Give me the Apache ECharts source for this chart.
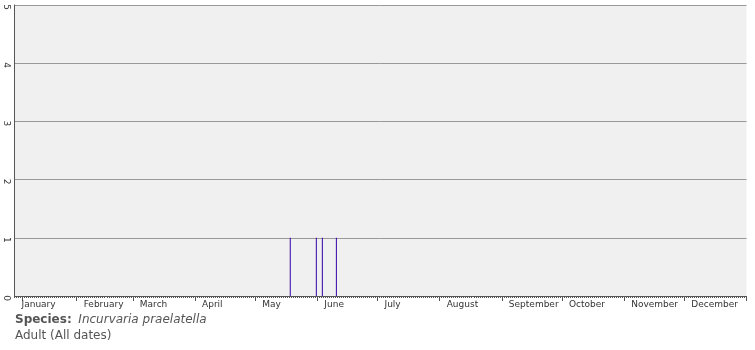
<!DOCTYPE html>
<html><head><meta charset="utf-8">
<script src="https://cdn.jsdelivr.net/npm/echarts@6/dist/echarts.min.js"></script>
<style>html,body{margin:0;padding:0;background:#fff}#c{width:755px;height:350px}</style>
</head><body><div id="c"></div>
<script>
const monthNames = ['January','February','March','April','May','June','July','August','September','October','November','December'];
const monthDays = [31,28,31,30,31,30,31,31,30,31,30,31];
// observation days (0-based day of year) and counts
const obsDays = [137, 150, 153, 160];
const obsCounts = [1, 1, 1, 1];
const yTicks = [0,1,2,3,4,5];

const days = [];
const monthStart = {};
const monthLabelAt = {};
let idx = 0;
monthDays.forEach((n, m) => {
  monthStart[idx] = m;
  monthLabelAt[idx + 3] = monthNames[m];
  for (let d = 1; d <= n; d++) { days.push(monthNames[m] + ' ' + d); idx++; }
});
monthStart[4] = 0;
delete monthStart[0];
const values = days.map(() => 0);
obsDays.forEach((d, i) => { values[d] = obsCounts[i]; });

const chart = echarts.init(document.getElementById('c'));
chart.setOption({
  animation: false,
  grid: { left: 14.5, right: 8.5, top: 5, bottom: 54, show: true, backgroundColor: '#f0f0f0', borderWidth: 0 },
  xAxis: [{
    type: 'category', data: days, boundaryGap: true, position: 'bottom',
    axisLine: { show: true, lineStyle: { color: '#555', width: 1 } },
    axisTick: { show: true, interval: 0, length: 2, lineStyle: { color: '#555', width: 1 } },
    axisLabel: { show: false }
  }, {
    type: 'category', data: days, boundaryGap: true, position: 'bottom',
    axisLine: { show: false },
    axisTick: { show: true, interval: (i) => monthStart[i] !== undefined, length: 5, lineStyle: { color: '#555', width: 1 } },
    axisLabel: { show: true, interval: (i) => monthLabelAt[i] !== undefined, formatter: (v, i) => monthLabelAt[i] || '',
      align: 'left', fontFamily: 'DejaVu Sans', fontSize: 9, color: '#333', margin: 4 }
  }],
  yAxis: {
    type: 'value', min: yTicks[0], max: yTicks[yTicks.length-1], interval: 1,
    axisLine: { show: true, lineStyle: { color: '#555' } },
    axisTick: { show: false },
    splitLine: { lineStyle: { color: '#999', width: 1 } },
    axisLabel: { rotate: -90, fontFamily: 'DejaVu Sans', fontSize: 9, color: '#333', margin: 4, padding: [0, 0, 0, 4] }
  },
  series: [{
    type: 'bar', xAxisIndex: 0, data: values, barWidth: 1,
    itemStyle: { color: '#3300aa' }
  }],
  graphic: [{
    type: 'text', left: 15, top: 314,
    style: { text: '{b|Species:}  {i|Incurvaria praelatella}', rich: {
      b: { fontFamily: 'DejaVu Sans', fontSize: 12, fontWeight: 'bold', fill: '#555' },
      i: { fontFamily: 'DejaVu Sans', fontSize: 12, fontStyle: 'italic', fill: '#555' } } }
  }, {
    type: 'text', left: 15, top: 330,
    style: { text: 'Adult (All dates)', fontFamily: 'DejaVu Sans', fontSize: 12, fill: '#555' }
  }]
});
</script></body></html>
